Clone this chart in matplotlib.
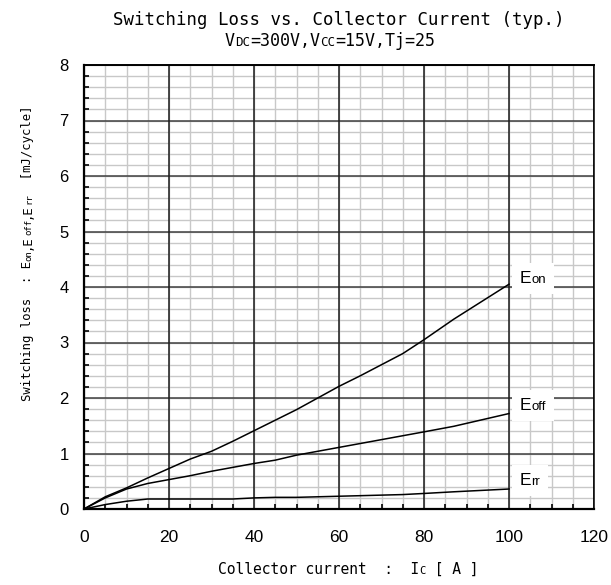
import matplotlib
matplotlib.use("Agg")

import matplotlib.pyplot as plt
import matplotlib.transforms as mtransforms
from matplotlib.patches import Rectangle
import numpy as np


# collector current [A] and switching energies [mJ/cycle]
ic = [0, 5, 10, 15, 20, 25, 30, 35, 40, 45, 50, 55, 60, 65, 70, 75, 80, 87, 100]
eon = [0, 0.22, 0.38, 0.56, 0.73, 0.9, 1.04, 1.22, 1.41, 1.6, 1.79, 2.0, 2.21,
       2.4, 2.6, 2.8, 3.05, 3.42, 4.05]
eoff = [0, 0.2, 0.36, 0.46, 0.53, 0.6, 0.68, 0.75, 0.82, 0.88, 0.97, 1.04,
        1.11, 1.18, 1.25, 1.32, 1.39, 1.49, 1.72]
err = [0, 0.08, 0.14, 0.18, 0.18, 0.18, 0.18, 0.18, 0.2, 0.21, 0.21, 0.22,
       0.23, 0.24, 0.25, 0.26, 0.28, 0.31, 0.36]

x_ticks = [0, 20, 40, 60, 80, 100, 120]
y_ticks = [0, 1, 2, 3, 4, 5, 6, 7, 8]
x_minor = np.arange(0, 121, 5)
y_minor = np.arange(0, 8.01, 0.2)

MONO = ["DejaVu Sans Mono", "Liberation Mono"]
SANS = ["Liberation Sans", "DejaVu Sans"]

W, H = 611, 585
fig = plt.figure(figsize=(W / 100, H / 100), dpi=100)
ax = fig.add_axes([84 / W, (H - 509) / H, (594 - 84) / W, (509 - 65) / H])

ax.plot(ic, eon, color="black", lw=1.1, zorder=5)
ax.plot(ic, eoff, color="black", lw=1.1, zorder=5)
ax.plot(ic, err, color="black", lw=1.1, zorder=5)

ax.set_xlim(0, 120)
ax.set_ylim(0, 8)

# grid: light minor lines first, then the darker 20 A / 1 mJ lines on top
ax.vlines(x_minor, 0, 8, color="#c8c8c8", lw=1.0, zorder=1)
ax.hlines(y_minor, 0, 120, color="#c8c8c8", lw=1.0, zorder=1)
ax.hlines(y_ticks, 0, 120, color="#404040", lw=1.1, zorder=2)
ax.vlines(x_ticks, 0, 8, color="#1a1a1a", lw=1.1, zorder=3)

ax.set_xticks(x_ticks)
ax.set_yticks(y_ticks)
ax.set_xticks(x_minor, minor=True)
ax.set_yticks(y_minor, minor=True)
ax.tick_params(which="both", direction="in", top=False, right=False,
               color="black")
ax.tick_params(which="minor", length=3.5, width=1.2)
ax.tick_params(which="major", length=0)
ax.tick_params(axis="x", labelsize=12.5, pad=15)
ax.tick_params(axis="y", labelsize=12, pad=11)
for lab in ax.get_xticklabels() + ax.get_yticklabels():
    lab.set_family(SANS)
for sp in ax.spines.values():
    sp.set_linewidth(1.6)
    sp.set_color("black")
    sp.set_zorder(6)
ax.spines["right"].set_linewidth(1.1)
ax.spines["top"].set_linewidth(1.4)

renderer = fig.canvas.get_renderer()
ident = mtransforms.IdentityTransform()


def rich_text(x, y, parts, family, rotation=0, ha="center", box=None):
    # place text pieces of mixed size on a common baseline (display pixels)
    texts = []
    widths = []
    for s, fs in parts:
        t = fig.text(0, 0, s, fontsize=fs, family=family, transform=ident,
                     ha="left", va="baseline", rotation_mode="anchor", zorder=4)
        widths.append(t.get_window_extent(renderer).width)
        t.set_rotation(rotation)
        texts.append(t)
    total = sum(widths)
    start = -total / 2 if ha == "center" else 0
    ang = np.deg2rad(rotation)
    pos = start
    for t, w in zip(texts, widths):
        t.set_position((x + pos * np.cos(ang), y + pos * np.sin(ang)))
        pos += w
    if box is not None:
        # white patch behind the label, covering the grid
        padx, pady = box
        ext = mtransforms.Bbox.union([t.get_window_extent(renderer) for t in texts])
        fig.patches.append(Rectangle((ext.x0 - padx, ext.y0 - pady),
                                     ext.width + 2 * padx, ext.height + 2 * pady,
                                     facecolor="white", edgecolor="none",
                                     transform=ident, zorder=3.5))


# titles
rich_text(339, H - 25, [("Switching Loss vs. Collector Current (typ.)", 12.5)], MONO)
rich_text(330, H - 46, [("V", 12), ("DC", 9), ("=300V,V", 12), ("CC", 9),
                        ("=15V,Tj=25", 12)], MONO)

# axis labels
rich_text(348, H - 574, [("Collector current  :  I", 10.5), ("C", 7.5),
                         (" [ A ]", 10.5)], MONO)
rich_text(31, H - 253, [("Switching loss  : E", 8.8), ("on", 6.5), (",E", 8.8),
                        ("off", 6.5), (",E", 8.8), ("rr", 6.5),
                        ("  [mJ/cycle]", 8.8)], MONO, rotation=90)

# curve labels
for name, sub, yv in [("E", "on", 4.07), ("E", "off", 1.79), ("E", "rr", 0.43)]:
    px, py = ax.transData.transform((102.6, yv))
    rich_text(px, py, [(name, 12.5), (sub, 9.5)], SANS, ha="left", box=(8, 8))

fig.savefig("out.png", dpi=100, facecolor="white")
